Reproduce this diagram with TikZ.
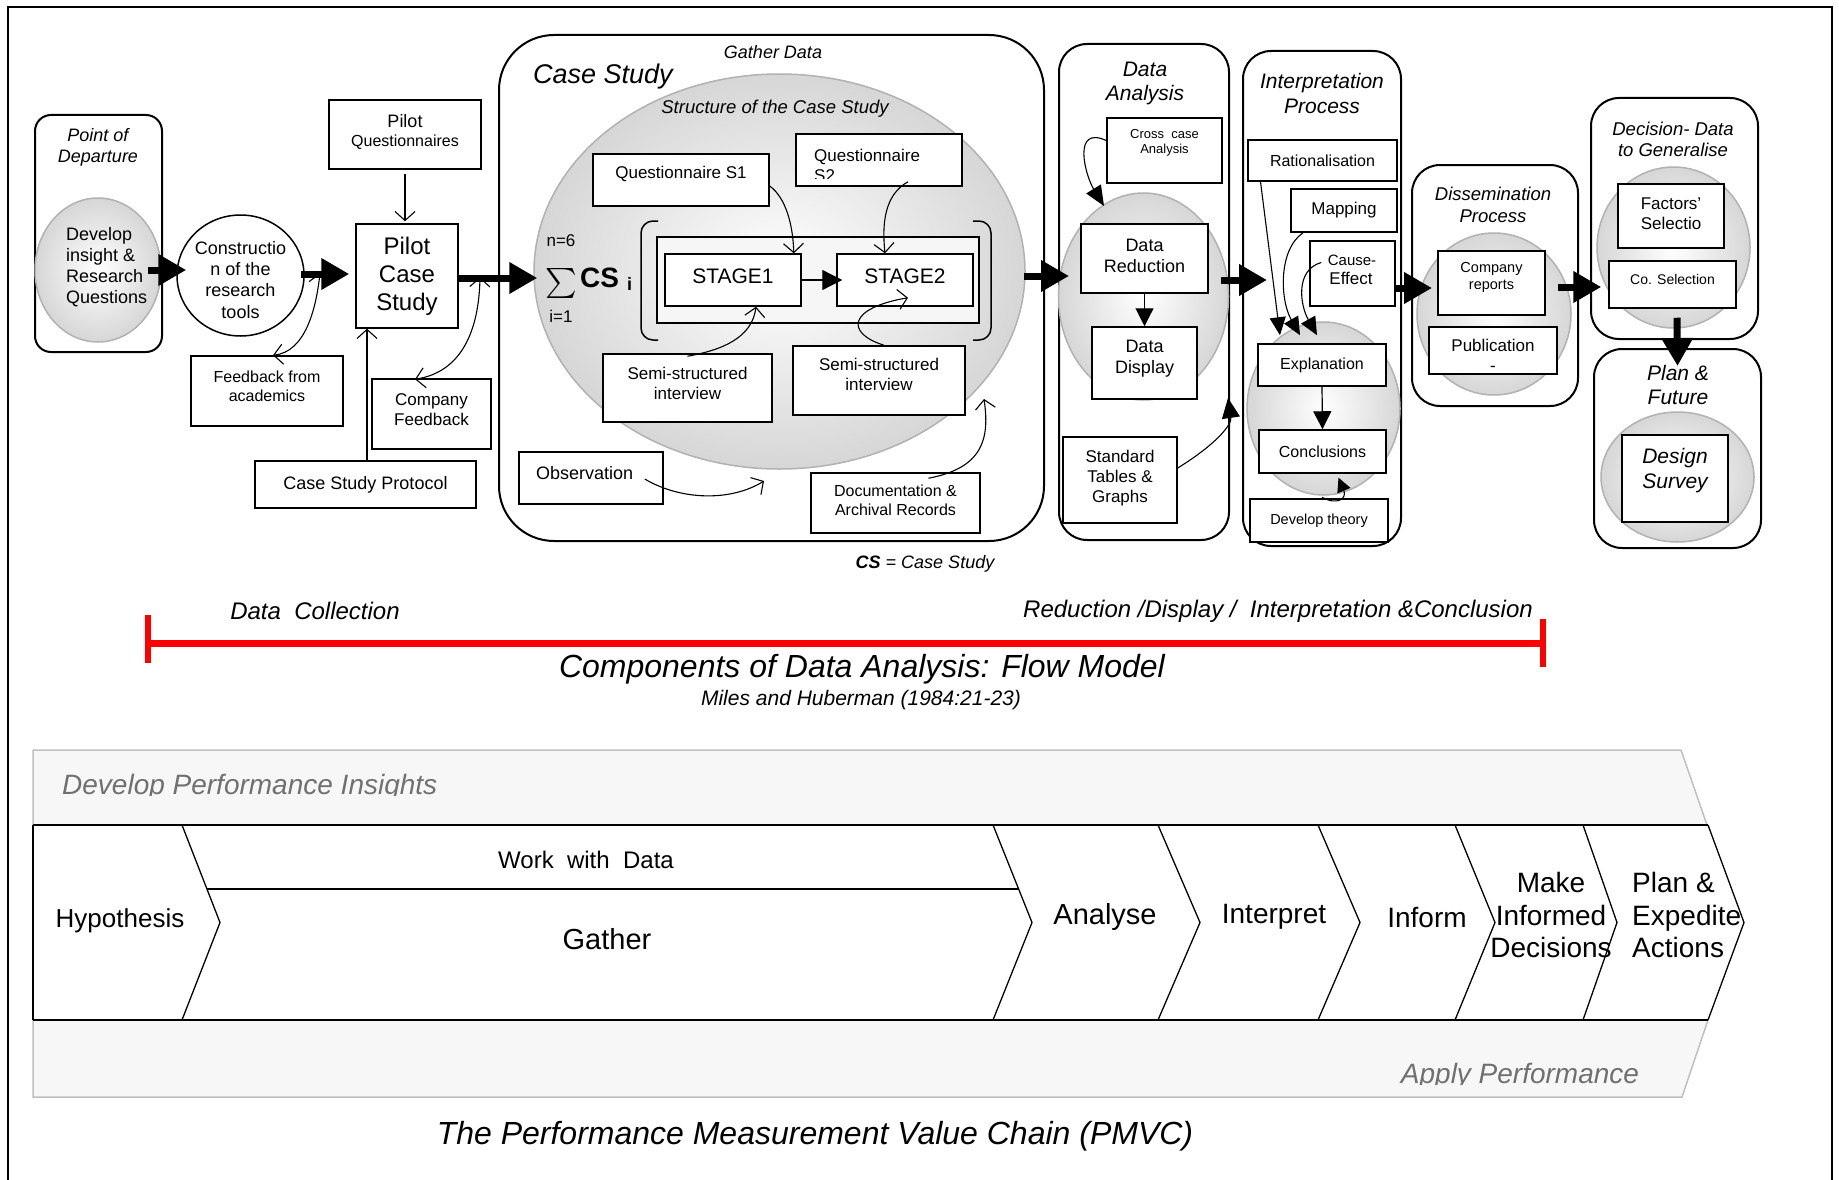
\documentclass[tikz,border=0pt]{standalone}
\usepackage{fontspec}
\setmainfont{Liberation Sans}
\usetikzlibrary{arrows.meta,shapes.geometric}
\newcommand{\fz}[1]{\fontsize{#1}{\fpeval{#1*1.17}}\selectfont}
\definecolor{bandfill}{HTML}{F7F7F7}
\definecolor{bandline}{HTML}{C0C0C0}
\definecolor{bandtext}{HTML}{707070}
\definecolor{redline}{HTML}{FF0000}
\begin{document}
\begin{tikzpicture}[x=1pt,y=-1pt,
 bx/.style={draw, line width=1.5pt, fill=white, inner sep=0pt, align=center},
 rbx/.style={draw, line width=2pt, rounded corners=28pt, inner sep=0pt, fill=white},
 gc/.style={ellipse, draw=gray!60, line width=1.5pt, inner color=white, outer color=gray!32, inner sep=0pt},
 lbl/.style={inner sep=0pt, align=center},
 barr/.style={line width=7pt, -{Triangle[length=28pt,width=30pt]}},
 oarr/.style={line width=1.1pt, -{Straight Barb[length=9pt,width=20pt]}},
 darr/.style={line width=1.1pt, {Straight Barb[length=9pt,width=20pt]}-{Straight Barb[length=9pt,width=20pt]}},
 chev/.style={line width=1.3pt},
]
\useasboundingbox (0,0) rectangle (1839,1180);
\draw[line width=1.5pt] (8,1180) -- (8,7) -- (1832,7) -- (1832,1180);

% ---------------- Point of departure
\node[rbx, rounded corners=16pt, minimum width=127pt, minimum height=237pt] (pod) at (98.5,233.5) {};
\node[lbl, font=\fz{18}\itshape] (podt) at (98,147) {Point of\\Departure};
\node[gc, minimum width=126pt, minimum height=144pt] (dev) at (98,270) {};
\node[lbl, align=left, anchor=west, font=\fz{18}] (devt) at (66,267) {Develop\\insight \&\\Research\\Questions};

% ---------------- Construction
\node[ellipse, draw, line width=1.5pt, fill=white, inner sep=0pt, minimum width=127pt, minimum height=121pt] (cons) at (240.5,275.5) {};
\node[lbl, font=\fz{18}] (const) at (240.5,280) {Constructio\\n of the\\research\\tools};

% ---------------- Pilot
\node[bx, minimum width=152pt, minimum height=69pt] (pq) at (405,134.5) {};
\node[lbl, font=\fz{18}] (pqt1) at (405,121) {Pilot};
\node[lbl, font=\fz{16}] (pqt2) at (405,142) {Questionnaires};
\node[bx, minimum width=102pt, minimum height=104pt, font=\fz{24}] (pcs) at (407,276) {Pilot\\Case\\Study};
\node[bx, minimum width=152pt, minimum height=70pt] (fa) at (267,391) {};
\node[lbl, font=\fz{16}] (fat) at (267,386) {Feedback from\\academics};
\node[bx, minimum width=119pt, minimum height=70pt] (cf) at (431.5,414) {};
\node[lbl, font=\fz{17}] (cft) at (431.5,410) {Company\\Feedback};
\node[bx, minimum width=221pt, minimum height=47pt, font=\fz{18}] (csp) at (365.5,484.5) {Case Study Protocol};

% ---------------- Case study
\node[rbx, rounded corners=55pt, minimum width=545pt, minimum height=506pt] (cs) at (771.5,288) {};
\node[lbl, font=\fz{18}\itshape] (gd) at (773,52) {Gather Data};
\node[lbl, anchor=west, font=\fz{27}\itshape] (cst) at (533,77) {Case Study};
\node[gc, minimum width=491pt, minimum height=395pt] (cse) at (779.5,271.5) {};
\node[lbl, font=\fz{18.5}\itshape] (soc) at (775,109) {Structure of the Case Study};
\node[bx, minimum width=176pt, minimum height=52pt] (qs1) at (681,180) {};
\node[lbl, font=\fz{17}] (qs1t) at (681,174) {Questionnaire S1};
\node[bx, minimum width=166pt, minimum height=52pt] (qs2) at (879,160) {};
\begin{scope}
\clip (797,135) rectangle (961,178);
\node[lbl, align=left, anchor=west, font=\fz{17}] (qs2t) at (814,165) {Questionnaire\\S2};
\end{scope}
\draw[line width=1.5pt, rounded corners=12pt] (658,221) -- (641,221) -- (641,340) -- (658,340);
\draw[line width=1.5pt, rounded corners=12pt] (973,221) -- (991,221) -- (991,340) -- (973,340);
\node[bx, fill=gray!7, minimum width=322pt, minimum height=86pt] (inbox) at (818,280) {};
\node[bx, minimum width=136pt, minimum height=52pt] (st1) at (733,280) {};
\node[lbl, font=\fz{21}] (st1t) at (733,276) {STAGE1};
\node[bx, minimum width=136pt, minimum height=52pt] (st2) at (905,280) {};
\node[lbl, font=\fz{21}] (st2t) at (905,276) {STAGE2};
\draw[line width=1.2pt, -{Triangle[length=20pt,width=20pt]}] (st1.east) -- ([xshift=6pt]st2.west);
\node[lbl, font=\fz{17}] (n6) at (561,241) {n=6};
\node[inner sep=0pt] (sig) at (561,283) {\scalebox{3}{$\sum$}};
\node[lbl, anchor=west, font=\fz{28}\bfseries] (csb) at (580,278) {CS};
\node[lbl, anchor=west, font=\fz{18}\bfseries] (csi) at (627,284) {i};
\node[lbl, font=\fz{17}] (i1) at (561,316) {i=1};
\node[bx, minimum width=169pt, minimum height=68pt] (ss1) at (687.5,388) {};
\node[lbl, font=\fz{17}] (ss1t) at (687.5,383.5) {Semi-structured\\interview};
\node[bx, minimum width=172pt, minimum height=69pt] (ss2) at (879,380.5) {};
\node[lbl, font=\fz{17}] (ss2t) at (879,374.5) {Semi-structured\\interview};
\node[bx, minimum width=144pt, minimum height=52pt] (obs) at (591,478) {};
\node[lbl, anchor=west, font=\fz{18}] (obst) at (536,473) {Observation};
\node[bx, minimum width=169pt, minimum height=60pt] (doc) at (895.5,503) {};
\node[lbl, font=\fz{16}] (doct) at (895.5,500.5) {Documentation \&\\Archival Records};

\draw[oarr] ([yshift=-6pt]qs1.east) .. controls (786,198) and (793,225) .. ([xshift=-8pt]st1.north east);
\draw[oarr] ([xshift=29pt,yshift=5pt]qs2.south) .. controls (884,195) and (882,225) .. ([xshift=-20pt]st2.north);
\draw[oarr] ([yshift=-3pt]ss1.north) .. controls (722,350) and (752,338) .. ([xshift=23pt]st1.south);
\draw[oarr] ([xshift=5pt]ss2.north) .. controls (845,333) and (848,308) .. ([xshift=3pt,yshift=9pt]st2.south);
\coordinate (obsend) at (764,481);
\draw[oarr] ([xshift=-19pt,yshift=-1pt]obs.east) .. controls (680,500) and (730,502) .. (obsend);
\coordinate (docend) at (984,399);
\draw[oarr] ([xshift=33pt,yshift=-6pt]doc.north) .. controls (982,468) and (990,440) .. (docend);
\node[lbl, font=\fz{18}\itshape] (csdef) at (925,564) {\textbf{CS} = Case Study};

% ---------------- Data analysis
\node[rbx, minimum width=170pt, minimum height=496pt] (da) at (1144,292) {};
\node[lbl, font=\fz{21}\itshape] (dat) at (1145,83.5) {Data\\Analysis};
\node[bx, minimum width=115pt, minimum height=65pt] (ccase) at (1164.5,150.5) {};
\node[lbl, font=\fz{13}] (ccaset) at (1164.5,143) {Cross\ \ case\\Analysis};
\node[gc, minimum width=170pt, minimum height=207pt] (dac) at (1143.5,296.5) {};
\node[bx, minimum width=127pt, minimum height=69pt] (dr) at (1144.5,258.5) {};
\node[lbl, font=\fz{18}] (drt) at (1144.5,256) {Data\\Reduction};
\node[bx, minimum width=105pt, minimum height=72pt] (dd) at (1144.5,363) {};
\node[lbl, font=\fz{18}] (ddt) at (1144.5,359) {Data\\Display};
\node[bx, minimum width=114pt, minimum height=86pt] (std) at (1120,480) {};
\node[lbl, font=\fz{17}] (stdt) at (1120,478) {Standard\\Tables \&\\Graphs};
\draw[line width=1.2pt, -{Triangle[length=18pt,width=18pt]}] (dr.south -| dd.north) -- (dd.north);
\coordinate (loopend) at (1104,206);
\draw[line width=1.1pt, -{Triangle[length=20pt,width=17pt]}] ([yshift=10pt]ccase.west) .. controls (1072,125) and (1085,175) .. (loopend);
\coordinate (stdend) at (1228,398);
\draw[line width=1.1pt, -{Triangle[length=20pt,width=18pt]}] ([yshift=12pt]std.east) .. controls (1215,445) and (1232,425) .. (stdend);

% ---------------- Interpretation
\node[rbx, minimum width=158pt, minimum height=495pt] (ip) at (1322,298.5) {};
\node[lbl, font=\fz{21}\itshape] (ipt) at (1322,93.5) {Interpretation\\Process};
\node[bx, minimum width=149pt, minimum height=41pt, font=\fz{16}] (rat) at (1322.5,160.5) {Rationalisation};
\node[bx, minimum width=106pt, minimum height=43pt, font=\fz{17}] (map) at (1344,210.5) {Mapping};
\node[bx, minimum width=85pt, minimum height=65pt] (ce) at (1352.5,273.5) {};
\node[lbl, font=\fz{15}] (cet1) at (1352,260) {Cause-};
\node[lbl, font=\fz{17}] (cet2) at (1351,278) {Effect};
\node[gc, minimum width=153pt, minimum height=173pt] (ipc) at (1323.5,408.5) {};
\node[bx, minimum width=128pt, minimum height=42pt, font=\fz{16}] (exp) at (1322,365) {Explanation};
\node[bx, minimum width=127pt, minimum height=43pt, font=\fz{16}] (con) at (1322.5,451.5) {Conclusions};
\node[bx, minimum width=138pt, minimum height=43pt, font=\fz{14.5}] (dt) at (1319,520.5) {Develop theory};
\draw[line width=1.2pt, -{Triangle[length=18pt,width=18pt]}] (exp.south) -- (con.north);
\draw[line width=1.1pt, -{Triangle[length=14pt,width=14pt]}] ([xshift=3pt,yshift=1pt]dt.north) .. controls (1338,506) and (1347,498) .. ([xshift=16pt,yshift=-4pt]con.south);
\draw[line width=1.1pt, -{Triangle[length=18pt,width=16pt]}] ([xshift=-62pt]rat.south) -- ([xshift=-42pt,yshift=8pt]exp.north);
\draw[line width=1.1pt, -{Triangle[length=18pt,width=16pt]}] ([xshift=-41pt]map.south) .. controls (1278,250) and (1280,300) .. ([xshift=-22pt,yshift=8pt]exp.north);
\draw[line width=1.1pt, -{Triangle[length=18pt,width=16pt]}] ([xshift=12pt,yshift=11pt]ce.west) .. controls (1295,270) and (1300,305) .. ([xshift=-5pt,yshift=8pt]exp.north);

% ---------------- Dissemination
\node[rbx, minimum width=166pt, minimum height=241pt] (dis) at (1495,285.5) {};
\node[lbl, font=\fz{18.5}\itshape] (dist) at (1493,205) {Dissemination\\Process};
\node[gc, minimum width=154pt, minimum height=162pt] (disc) at (1494,314) {};
\node[bx, minimum width=107pt, minimum height=64pt] (cr) at (1491.5,283) {};
\node[lbl, font=\fz{14.5}] (crt) at (1491.5,277.5) {Company\\reports};
\node[bx, minimum width=128pt, minimum height=47pt] (pub) at (1493,350.5) {};
\node[lbl, font=\fz{17}] (pubt) at (1493,355) {Publication\\-};

% ---------------- Decision
\node[rbx, minimum width=167pt, minimum height=241pt] (dec) at (1674.5,218.5) {};
\node[lbl, font=\fz{18.5}\itshape] (dect) at (1673,139.5) {Decision- Data\\to Generalise};
\node[gc, minimum width=153pt, minimum height=161pt] (decc) at (1673.5,247.5) {};
\node[bx, minimum width=106pt, minimum height=64pt] (fs) at (1671,216) {};
\node[lbl, font=\fz{17}] (fst) at (1671,214) {Factors’\\Selectio};
\node[bx, minimum width=127pt, minimum height=47pt] (cos) at (1672.5,284.5) {};
\node[lbl, font=\fz{14}] (cost) at (1672.5,279) {Co. Selection};

% ---------------- Plan & Future
\node[rbx, minimum width=167pt, minimum height=199pt] (plan) at (1677.5,448.5) {};
\node[lbl, font=\fz{21}\itshape] (plant) at (1678,385) {Plan \&\\Future};
\node[gc, minimum width=153pt, minimum height=130pt] (planc) at (1677.5,477) {};
\node[bx, minimum width=106pt, minimum height=87pt] (ds) at (1675,478.5) {};
\node[lbl, font=\fz{21}\itshape] (dst) at (1675,470.5) {Design\\Survey};

% ---------------- connectors of the first row
\draw[barr] ([xshift=-14pt]dev.east) -- ([xshift=10pt,yshift=5.5pt]cons.west);
\draw[barr] ([xshift=-4pt,yshift=1.5pt]cons.east) -- ([xshift=-6pt,yshift=2pt]pcs.west);
\draw[oarr, shorten <=4pt, shorten >=2pt] (pq.south) -- (pq.south |- pcs.north);
\coordinate (k1a) at (320,273);
\draw[darr] (k1a) .. controls (316,310) and (305,352) .. ([xshift=6pt]fa.north);
\coordinate (k2a) at (480,277);
\draw[darr] (k2a) .. controls (479,330) and (462,372) .. ([xshift=-16.5pt,yshift=-1pt]cf.north);
\draw[oarr] ([xshift=1.5pt]csp.north) -- ([xshift=-40pt]pcs.south);
\draw[barr] ([yshift=-2pt]pcs.east) -- ([xshift=4pt,yshift=-6.5pt]cse.west);
\draw[barr] ([xshift=-2pt,yshift=-4.5pt]cse.east) -- ([xshift=11pt,yshift=16pt]da.west);
\draw[barr] ([xshift=-9pt,yshift=12pt]da.east) -- ([xshift=25pt,yshift=18.5pt]ip.west);
\draw[barr] ([xshift=-6pt,yshift=10.5pt]ip.east) -- ([xshift=21pt,yshift=-2.5pt]dis.west);
\draw[barr] ([xshift=-21pt,yshift=-1.5pt]dis.east) -- ([xshift=-7pt,yshift=-2.5pt]cos.west);
\draw[barr] ([xshift=4.5pt,yshift=-9pt]cos.south) -- ([yshift=-18pt]plan.north);

% ---------------- Flow model scale
\node[lbl, font=\fz{24}\itshape] (dcol) at (315,611) {Data\ \ Collection};
\node[lbl, font=\fz{24}\itshape] (rdic) at (1278,611) {Reduction /Display /\ \ Interpretation \&Conclusion};
\coordinate (rl) at (148,643);
\coordinate (rr) at (1543,643);
\draw[redline, line width=7pt] (rl) -- (rr);
\draw[redline, line width=6pt] ([yshift=28pt]rl) -- ([yshift=-20pt]rl);
\draw[redline, line width=6pt] ([yshift=24pt]rr) -- ([yshift=-24pt]rr);
\node[lbl, font=\fz{32}\itshape] (cdaf) at (862,669) {Components of Data Analysis: Flow Model};
\node[lbl, font=\fz{21}\itshape] (mh) at (861,700) {Miles and Huberman (1984:21-23)};

% ---------------- PMVC
\draw[bandline, fill=bandfill, line width=1.5pt] (33,750) -- (1681,750) -- (1707,825) -- (33,825) -- cycle;
\draw[bandline, fill=bandfill, line width=1.5pt] (33,1020) -- (1708,1020) -- (1682,1097) -- (33,1097) -- cycle;
\begin{scope}
\clip (34,751) rectangle (900,795.5);
\node[lbl, anchor=base west, font=\fz{28}\itshape, text=bandtext] (dpi) at (62,794) {Develop Performance Insights};
\end{scope}
\begin{scope}
\clip (1300,1040) rectangle (1690,1084.5);
\node[lbl, anchor=base, font=\fz{28}\itshape, text=bandtext] (apf) at (1520,1083) {Apply Performance};
\end{scope}
\fill[white] (33,825) -- (1708,825) -- (1744,922.5) -- (1708,1020) -- (33,1020) -- cycle;
\draw[line width=2.2pt] (33,825) -- (1708,825);
\draw[line width=2.2pt] (33,1020) -- (1708,1020);
\draw[line width=1.8pt] (33,825) -- (33,1020);
\foreach \t/\p in {182/220, 993/1032, 1158/1200, 1318/1360, 1455/1495, 1583/1617, 1708/1744}{
  \draw[chev] (\t,825) -- (\p,922.5) -- (\t,1020);
}
\draw[line width=1.8pt] (207,889) -- (1019,889);
\node[lbl, font=\fz{24}] (wwd) at (586,860) {Work\ \ with\ \ Data};
\node[lbl, font=\fz{26}] (hyp) at (120,921) {Hypothesis};
\node[lbl, font=\fz{29}] (gat) at (607,939) {Gather};
\node[lbl, font=\fz{29}] (ana) at (1105,917) {Analyse};
\node[lbl, font=\fz{28}] (int) at (1274,917) {Interpret};
\node[lbl, font=\fz{28}] (inf) at (1427,917) {Inform};
\node[lbl, font=\fz{28}, align=center] (mid) at (1551,915) {Make\\Informed\\Decisions};
\node[lbl, font=\fz{28}, align=left, anchor=west] (pea) at (1632,915) {Plan \&\\Expedite\\Actions};
\node[lbl, font=\fz{32}\itshape] (pmvc) at (815,1136) {The Performance Measurement Value Chain (PMVC)};
\end{tikzpicture}
\end{document}
